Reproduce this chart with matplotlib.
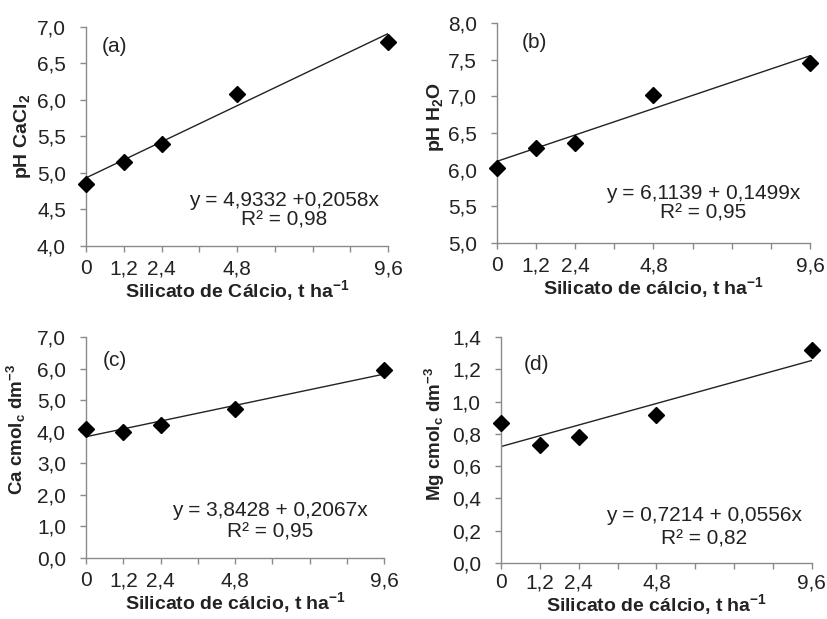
import matplotlib
matplotlib.use("Agg")
import matplotlib.pyplot as plt
import numpy as np

plt.rcParams['font.family'] = ['Liberation Sans', 'DejaVu Sans']
plt.rcParams['mathtext.fontset'] = 'custom'
plt.rcParams['mathtext.rm'] = 'Liberation Sans'
plt.rcParams['mathtext.it'] = 'Liberation Sans'
plt.rcParams['mathtext.bf'] = 'Liberation Sans:bold'

# Data
doses = [0, 1.2, 2.4, 4.8, 9.6]
tick_positions = [0, 1.2, 2.4, 3.6, 4.8, 6.0, 7.2, 8.4, 9.6]
tick_labels = ['0', '1,2', '2,4', '', '4,8', '', '', '', '9,6']

ph_cacl2 = [4.85, 5.15, 5.40, 6.08, 6.80]
ph_h2o = [6.02, 6.30, 6.37, 7.02, 7.45]
ca = [4.10, 4.00, 4.22, 4.72, 5.97]
mg = [0.87, 0.73, 0.78, 0.92, 1.32]

fit_a = (4.9332, 0.2058)
fit_b = (6.1139, 0.1499)
fit_c = (3.8428, 0.2067)
fit_d = (0.7214, 0.0556)

eq_a = ["y = 4,9332 +0,2058x", "R² = 0,98"]
eq_b = ["y = 6,1139 + 0,1499x", "R² = 0,95"]
eq_c = ["y = 3,8428 + 0,2067x", "R² = 0,95"]
eq_d = ["y = 0,7214 + 0,0556x", "R² = 0,82"]

panels = [
    dict(pos=[0.1039, 0.6026, 0.3647, 0.3538], y=ph_cacl2, fit=fit_a, eq=eq_a, tag="(a)",
         ylim=(4.0, 7.0), yticks=np.arange(4.0, 7.01, 0.5), fmt="{:.1f}",
         ylabel=r"pH CaCl$_{\mathbf{2}}$", xlabel=r"Silicato de Cálcio, t ha$^{\mathbf{-1}}$",
         ylfs=14, ylc=(-0.212, 0.5), xlpad=0, xpad=5,
         eqpos=(0.656, 0.21, 0.12), tagpos=(0.053, 0.91)),
    dict(pos=[0.6002, 0.6074, 0.378, 0.3554], y=ph_h2o, fit=fit_b, eq=eq_b, tag="(b)",
         ylim=(5.0, 8.0), yticks=np.arange(5.0, 8.01, 0.5), fmt="{:.1f}",
         ylabel=r"pH H$_{\mathbf{2}}$O", xlabel=r"Silicato de cálcio, t ha$^{\mathbf{-1}}$",
         ylfs=14, ylc=(-0.195, 0.573), xlpad=0, xpad=5,
         eqpos=(0.658, 0.227, 0.136), tagpos=(0.08, 0.91)),
    dict(pos=[0.1039, 0.0985, 0.36, 0.357], y=ca, fit=fit_c, eq=eq_c, tag="(c)",
         ylim=(0.0, 7.0), yticks=np.arange(0.0, 7.01, 1.0), fmt="{:.1f}",
         ylabel=r"Ca cmol$_{\mathbf{c}}$ dm$^{\mathbf{-3}}$", xlabel=r"Silicato de cálcio, t ha$^{\mathbf{-1}}$",
         ylfs=13.5, ylc=(-0.235, 0.58), xlpad=0, xpad=5,
         eqpos=(0.617, 0.217, 0.118), tagpos=(0.057, 0.896)),
    dict(pos=[0.605, 0.0905, 0.3756, 0.365], y=mg, fit=fit_d, eq=eq_d, tag="(d)",
         ylim=(0.0, 1.4), yticks=np.arange(0.0, 1.401, 0.2), fmt="{:.1f}",
         ylabel=r"Mg cmol$_{\mathbf{c}}$ dm$^{\mathbf{-3}}$", xlabel=r"Silicato de cálcio, t ha$^{\mathbf{-1}}$",
         ylfs=13.5, ylc=(-0.213, 0.57), xlpad=0, xpad=3,
         eqpos=(0.653, 0.208, 0.108), tagpos=(0.074, 0.88)),
]

fig = plt.figure(figsize=(8.28, 6.19), dpi=100)
fig.patch.set_facecolor('white')

for p in panels:
    ax = fig.add_axes(p['pos'])
    xs = np.array([0, 9.6])
    ax.plot(xs, p['fit'][0] + p['fit'][1] * xs, color='#222222', lw=1.0, zorder=2)
    ax.plot(doses, p['y'], linestyle='none', marker='D', color='black', markersize=8, zorder=3,
            clip_on=False)
    ax.set_xlim(0, 9.6)
    ax.set_ylim(*p['ylim'])
    ax.set_xticks(tick_positions)
    ax.set_xticklabels(tick_labels)
    ax.set_yticks(p['yticks'])
    ax.set_yticklabels([p['fmt'].format(v).replace('.', ',') for v in p['yticks']])
    for s in ['top', 'right']:
        ax.spines[s].set_visible(False)
    for s in ['left', 'bottom']:
        ax.spines[s].set_color('#8a8a8a')
        ax.spines[s].set_linewidth(1.0)
    ax.tick_params(axis='both', direction='out', length=4.5, width=1.0, color='#8a8a8a',
                   labelsize=15, labelcolor='#222222')
    ax.tick_params(axis='y', pad=10)
    ax.tick_params(axis='x', pad=p['xpad'])
    ax.set_ylabel(p['ylabel'], fontsize=p['ylfs'], fontweight='bold', color='#222222', va='center')
    ax.yaxis.set_label_coords(*p['ylc'])
    ax.set_xlabel(p['xlabel'], fontsize=14, fontweight='bold', color='#222222', labelpad=p['xlpad'])
    ax.patch.set_alpha(0)
    ex, ey1, ey2 = p['eqpos']
    ax.text(ex, ey1, p['eq'][0], transform=ax.transAxes, ha='center', va='center', fontsize=15, color='#222222')
    ax.text(ex, ey2, p['eq'][1], transform=ax.transAxes, ha='center', va='center', fontsize=15, color='#222222')
    tx, ty = p['tagpos']
    ax.text(tx, ty, p['tag'], transform=ax.transAxes, ha='left', va='center', fontsize=15, color='#222222')

fig.savefig('out.png', dpi=100)
